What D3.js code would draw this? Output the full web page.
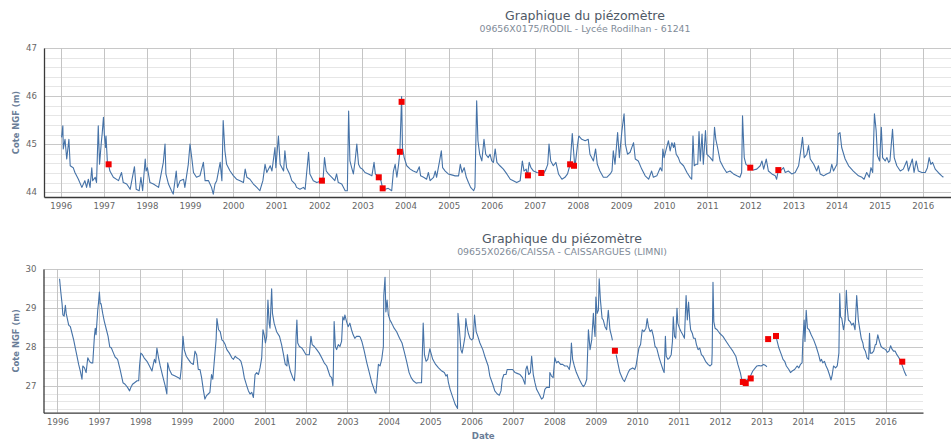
<!DOCTYPE html>
<html>
<head>
<meta charset="utf-8">
<script src="https://cdn.jsdelivr.net/npm/d3@7"></script>
<style>
  html, body { margin: 0; padding: 0; background: #fff; }
  svg { display: block; font-family: "Lucida Grande", "Lucida Sans Unicode", "DejaVu Sans", Verdana, sans-serif; }
</style>
</head>
<body>
<svg id="chart" width="951" height="441"></svg>
<script>
// Piezometer water level records (year as decimal, level in m NGF).
const rodilLevels = [
[1996.02,45.14],[1996.05,45.38],[1996.06,44.90],[1996.10,45.10],[1996.14,44.69],[1996.19,45.10],[1996.22,44.55],[1996.29,44.51],[1996.33,44.41],[1996.41,44.27],[1996.49,44.10],[1996.56,44.24],[1996.60,44.10],[1996.64,44.27],[1996.68,44.10],[1996.72,44.51],[1996.74,44.24],[1996.80,44.31],[1996.83,44.20],[1996.87,45.38],[1996.90,44.58],[1996.94,45.03],[1996.96,45.21],[1996.99,45.56],[1997.01,45.21],[1997.04,44.93],[1997.05,45.17],[1997.08,44.65],[1997.11,44.58],[1997.14,44.44],[1997.22,44.31],[1997.34,44.24],[1997.41,44.41],[1997.45,44.20],[1997.53,44.17],[1997.61,44.06],[1997.71,44.53],[1997.75,44.06],[1997.82,44.03],[1997.86,44.31],[1997.90,44.03],[1997.96,44.69],[1997.98,44.44],[1998.01,44.51],[1998.07,44.20],[1998.15,44.17],[1998.27,44.10],[1998.38,44.62],[1998.42,45.00],[1998.44,44.38],[1998.50,44.17],[1998.57,44.03],[1998.61,43.96],[1998.68,44.44],[1998.71,44.10],[1998.77,44.24],[1998.85,44.27],[1998.88,44.10],[1998.96,44.58],[1999.00,45.00],[1999.04,44.72],[1999.08,44.41],[1999.15,44.31],[1999.23,44.34],[1999.31,44.62],[1999.35,44.24],[1999.43,44.24],[1999.50,44.10],[1999.54,43.96],[1999.58,44.17],[1999.62,44.24],[1999.70,44.62],[1999.74,44.24],[1999.77,45.49],[1999.81,44.86],[1999.85,44.58],[1999.93,44.44],[2000.01,44.34],[2000.08,44.27],[2000.16,44.24],[2000.24,44.20],[2000.28,44.48],[2000.32,44.31],[2000.39,44.27],[2000.47,44.17],[2000.55,44.10],[2000.62,44.03],[2000.69,44.24],[2000.74,44.58],[2000.78,44.41],[2000.86,44.55],[2000.90,44.44],[2000.97,44.93],[2000.99,44.51],[2001.05,45.17],[2001.09,44.58],[2001.17,44.44],[2001.20,44.86],[2001.24,44.51],[2001.31,44.38],[2001.36,44.24],[2001.44,44.17],[2001.47,44.10],[2001.55,44.06],[2001.63,44.10],[2001.67,44.06],[2001.75,44.83],[2001.78,44.38],[2001.86,44.24],[2001.94,44.20],[2002.06,44.24],[2002.09,44.31],[2002.12,44.72],[2002.16,44.44],[2002.21,44.38],[2002.29,44.31],[2002.36,44.24],[2002.40,44.38],[2002.44,44.20],[2002.52,44.17],[2002.60,44.03],[2002.65,44.03],
[2002.68,45.69],[2002.71,44.65],[2002.75,44.51],[2002.79,44.38],[2002.83,44.65],[2002.87,45.00],[2002.91,44.58],[2002.95,44.51],[2003.00,44.48],[2003.06,44.41],[2003.14,44.38],[2003.22,44.34],[2003.27,44.62],[2003.30,44.38],[2003.38,44.31],[2003.43,44.24],[2003.47,44.08],[2003.53,44.06],[2003.60,44.08],[2003.68,44.03],[2003.72,44.44],[2003.76,44.58],[2003.80,44.31],[2003.84,44.58],[2003.87,44.84],[2003.91,45.99],[2003.93,44.93],[2003.97,44.72],[2004.03,44.55],[2004.11,44.48],[2004.18,44.44],[2004.26,44.41],[2004.32,44.53],[2004.35,44.34],[2004.42,44.31],[2004.49,44.27],[2004.53,44.41],[2004.57,44.24],[2004.65,44.31],[2004.69,44.44],[2004.72,44.31],[2004.79,44.65],[2004.83,44.86],[2004.86,44.51],[2004.92,44.44],[2004.99,44.38],[2005.07,44.36],[2005.15,44.34],[2005.23,44.34],[2005.27,44.58],[2005.31,44.41],[2005.36,44.51],[2005.41,44.31],[2005.46,44.20],[2005.51,44.10],[2005.58,44.03],[2005.61,44.10],[2005.65,45.90],[2005.68,45.07],[2005.72,44.79],[2005.77,44.65],[2005.82,45.10],[2005.86,44.79],[2005.92,44.72],[2005.96,44.79],[2006.00,44.65],[2006.04,44.62],[2006.08,44.90],[2006.12,44.62],[2006.19,44.55],[2006.27,44.48],[2006.35,44.38],[2006.43,44.27],[2006.50,44.24],[2006.58,44.20],[2006.66,44.24],[2006.71,44.65],[2006.75,44.44],[2006.80,44.48],[2006.83,44.34],[2006.87,44.62],[2006.91,44.51],[2006.97,44.44],[2007.05,44.41],[2007.15,44.40],[2007.20,44.38],[2007.26,44.48],[2007.30,44.58],[2007.33,45.00],[2007.37,44.65],[2007.43,44.55],[2007.49,44.62],[2007.55,44.38],[2007.63,44.27],[2007.70,44.31],[2007.76,44.38],[2007.82,44.58],[2007.87,45.22],[2007.93,44.51],[2007.99,44.97],[2008.02,45.17],[2008.09,45.10],[2008.17,45.07],[2008.24,45.10],[2008.28,44.79],[2008.36,44.65],[2008.41,44.90],[2008.45,44.58],[2008.51,44.44],[2008.59,44.31],[2008.67,44.31],[2008.75,44.38],[2008.79,44.44],[2008.82,44.86],[2008.86,44.58],[2008.92,45.24],[2008.96,44.72],[2009.02,45.28],[2009.07,45.63],[2009.10,45.00],[2009.15,44.79],[2009.21,44.83],[2009.29,45.03],[2009.33,44.69],[2009.40,44.65],[2009.48,44.48],
[2009.56,44.34],[2009.64,44.27],[2009.71,44.44],[2009.75,44.31],[2009.83,44.34],[2009.91,44.51],[2009.95,44.44],[2009.97,44.90],[2010.00,44.72],[2010.05,44.90],[2010.10,45.07],[2010.14,44.86],[2010.18,45.03],[2010.22,44.93],[2010.24,45.03],[2010.28,44.79],[2010.33,44.72],[2010.37,44.62],[2010.45,44.55],[2010.53,44.41],[2010.60,44.31],[2010.64,44.27],[2010.67,45.17],[2010.70,44.55],[2010.74,44.58],[2010.78,44.58],[2010.81,45.26],[2010.84,44.65],[2010.88,45.21],[2010.91,44.58],[2010.96,45.28],[2010.99,44.79],[2011.07,44.72],[2011.13,44.65],[2011.17,45.35],[2011.20,45.10],[2011.24,44.93],[2011.30,44.65],[2011.38,44.51],[2011.45,44.41],[2011.53,44.44],[2011.61,44.38],[2011.69,44.34],[2011.76,44.31],[2011.80,44.41],[2011.82,45.59],[2011.86,44.72],[2011.90,44.58],[2012.00,44.51],[2012.07,44.46],[2012.15,44.48],[2012.23,44.55],[2012.27,44.65],[2012.31,44.48],[2012.37,44.69],[2012.42,44.44],[2012.50,44.38],[2012.58,44.34],[2012.61,44.27],[2012.65,44.46],[2012.69,44.44],[2012.77,44.51],[2012.81,44.41],[2012.88,44.44],[2012.96,44.38],[2013.04,44.41],[2013.12,44.55],[2013.18,44.93],[2013.21,45.14],[2013.25,44.72],[2013.31,44.79],[2013.35,44.97],[2013.39,44.69],[2013.47,44.58],[2013.54,44.44],[2013.58,44.55],[2013.62,44.38],[2013.70,44.34],[2013.77,44.38],[2013.85,44.41],[2013.89,44.58],[2013.93,44.44],[2014.01,44.58],[2014.04,45.21],[2014.08,45.24],[2014.12,44.93],[2014.20,44.69],[2014.28,44.55],[2014.39,44.44],[2014.51,44.34],[2014.59,44.31],[2014.64,44.27],[2014.70,44.41],[2014.76,44.31],[2014.80,44.51],[2014.84,44.41],[2014.88,45.63],[2014.92,45.28],[2014.95,44.76],[2015.00,44.65],[2015.04,45.35],[2015.07,44.72],[2015.13,44.65],[2015.17,44.72],[2015.21,44.62],[2015.24,44.65],[2015.30,45.31],[2015.34,44.72],[2015.40,44.55],[2015.48,44.44],[2015.55,44.48],[2015.63,44.65],[2015.67,44.44],[2015.71,44.55],[2015.76,44.69],[2015.80,44.41],[2015.85,44.65],[2015.90,44.44],[2015.98,44.41],[2016.06,44.41],[2016.11,44.51],[2016.15,44.72],[2016.19,44.58],[2016.23,44.62],[2016.29,44.48],[2016.36,44.41],[2016.44,44.34],[2016.48,44.31]
];

// Flagged measurements on the Rodilhan record
const rodilFlags = [
[1997.11,44.58],[2002.06,44.24],[2003.38,44.31],[2003.47,44.08],[2003.87,44.84],[2003.91,45.88],
[2006.84,44.35],[2007.15,44.40],[2007.82,44.58],[2007.91,44.55],[2012.00,44.51],[2012.65,44.46]
];

// Caissargues record; null levels are missing periods
const caissaLevels = [
[1996.05,29.75],[1996.08,29.41],[1996.11,29.11],[1996.13,28.82],[1996.16,28.79],[1996.19,29.07],[1996.21,28.86],[1996.27,28.56],[1996.31,28.52],[1996.35,28.35],[1996.39,28.18],[1996.43,27.97],[1996.47,27.76],[1996.51,27.55],[1996.55,27.38],[1996.59,27.17],[1996.61,27.51],[1996.65,27.46],[1996.69,27.34],[1996.73,27.72],[1996.77,27.63],[1996.81,27.59],[1996.85,27.59],[1996.89,28.27],[1996.91,28.48],[1996.93,28.31],[1996.97,28.94],[1996.99,29.15],[1997.01,29.41],[1997.03,29.11],[1997.05,29.11],[1997.09,28.86],[1997.13,28.65],[1997.18,28.44],[1997.22,28.27],[1997.26,28.00],[1997.30,27.97],[1997.35,27.84],[1997.39,27.74],[1997.45,27.68],[1997.51,27.42],[1997.58,27.08],[1997.63,27.04],[1997.69,26.96],[1997.74,26.87],[1997.77,26.96],[1997.81,27.04],[1997.86,27.08],[1997.92,27.13],[1997.96,27.13],[1997.98,27.51],[1998.01,27.84],[1998.05,27.80],[1998.09,27.72],[1998.16,27.63],[1998.22,27.51],[1998.28,27.38],[1998.32,27.59],[1998.34,27.68],[1998.37,27.59],[1998.40,27.97],[1998.44,27.72],[1998.48,27.51],[1998.54,27.25],[1998.60,27.00],[1998.64,26.79],[1998.66,27.59],[1998.70,27.42],[1998.76,27.29],[1998.84,27.25],[1998.92,27.21],[1998.96,27.17],[1998.99,27.46],[1999.03,28.27],[1999.06,27.93],[1999.11,27.76],[1999.16,27.68],[1999.22,27.59],[1999.28,27.55],[1999.32,27.89],[1999.36,27.80],[1999.40,27.42],[1999.44,27.42],[1999.48,27.21],[1999.52,26.91],[1999.56,26.66],[1999.60,26.75],[1999.64,26.79],[1999.68,26.83],[1999.72,27.29],[1999.75,27.17],[1999.79,27.68],[1999.83,28.18],[1999.85,28.73],[1999.89,28.44],[1999.93,28.39],[1999.97,28.18],[2000.01,28.14],[2000.05,28.06],[2000.09,27.93],[2000.15,27.84],[2000.21,27.72],[2000.25,27.68],[2000.29,27.76],[2000.33,27.72],[2000.39,27.68],[2000.43,27.63],[2000.47,27.46],[2000.51,27.21],[2000.57,27.00],[2000.61,26.87],[2000.65,26.79],[2000.69,26.83],[2000.73,26.70],[2000.77,27.29],[2000.81,27.34],[2000.85,27.29],[2000.89,27.46],[2000.93,27.72],[2000.96,28.44],[2000.99,28.31],[2001.02,28.10],[2001.05,28.27],[2001.08,29.20],[2001.11,28.61],[2001.13,28.48],[2001.17,29.49],[2001.19,28.86],[2001.23,28.61],[2001.29,28.39],[2001.36,28.27],[2001.41,28.06],[2001.45,27.84],[2001.50,27.55],[2001.54,27.51],[2001.55,27.80],[2001.58,27.59],[2001.62,27.38],[2001.68,27.21],[2001.72,27.13],[2001.74,27.42],[2001.76,28.27],[2001.78,28.69],[2001.80,28.10],[2001.84,28.01],[2001.90,27.97],[2001.95,27.89],[2002.00,27.80],[2002.04,27.80],[2002.08,27.80],[2002.12,28.27],[2002.15,28.06],[2002.20,28.01],[2002.26,27.93],[2002.32,27.84],[2002.38,27.72],[2002.44,27.59],[2002.50,27.51],[2002.54,27.38],[2002.58,27.25],[2002.62,27.21],[2002.65,27.00],[2002.66,27.34],[2002.68,28.65],[2002.71,28.01],[2002.74,27.93],[2002.78,28.06],[2002.82,28.01],[2002.86,28.14],[2002.89,28.77],[2002.92,28.69],[2002.94,28.82],[2002.98,28.65],[2003.02,28.52],[2003.06,28.61],[2003.10,28.44],[2003.14,28.31],[2003.18,28.22],[2003.22,28.27],[2003.29,28.27],
[2003.31,28.25],[2003.35,28.14],[2003.40,27.93],[2003.47,27.59],[2003.53,27.34],[2003.59,27.08],[2003.63,26.96],[2003.67,26.83],[2003.69,26.81],[2003.72,27.17],[2003.75,27.55],[2003.79,27.51],[2003.83,27.68],[2003.87,28.01],[2003.88,29.32],[2003.91,29.79],[2003.93,28.90],[2003.96,29.20],[2003.99,28.82],[2004.03,28.69],[2004.07,28.61],[2004.13,28.48],[2004.19,28.39],[2004.26,28.22],[2004.32,28.10],[2004.37,27.89],[2004.43,27.63],[2004.49,27.34],[2004.54,27.21],[2004.59,27.13],[2004.66,27.07],[2004.71,27.08],[2004.79,27.08],[2004.83,28.61],[2004.86,27.80],[2004.90,27.63],[2004.94,27.68],[2004.99,27.95],[2005.06,27.68],[2005.13,27.55],[2005.20,27.46],[2005.28,27.38],[2005.34,27.34],[2005.38,27.25],[2005.41,27.29],[2005.44,27.08],[2005.48,26.91],[2005.53,26.75],[2005.60,26.53],[2005.66,26.42],[2005.67,28.86],[2005.70,28.52],[2005.74,27.93],[2005.77,27.84],[2005.80,28.01],[2005.84,28.27],[2005.86,28.73],[2005.88,28.56],[2005.92,28.35],[2005.96,28.22],[2006.00,28.18],[2006.04,28.22],[2006.07,28.82],[2006.11,28.39],[2006.15,28.27],[2006.20,28.10],[2006.27,27.93],[2006.33,27.72],[2006.40,27.51],[2006.44,27.25],[2006.51,27.04],[2006.56,26.87],[2006.62,26.79],[2006.67,26.76],[2006.71,26.87],[2006.74,27.17],[2006.78,27.29],[2006.83,27.29],[2006.86,27.42],[2006.93,27.42],[2006.99,27.42],[2007.05,27.34],[2007.10,27.32],[2007.17,27.29],[2007.23,27.21],[2007.29,27.04],[2007.31,27.42],[2007.34,27.51],[2007.38,27.29],[2007.42,27.34],[2007.45,27.76],[2007.49,27.29],[2007.53,27.08],[2007.57,26.91],[2007.63,26.79],[2007.69,26.66],[2007.73,26.70],[2007.77,26.91],[2007.81,26.96],[2007.88,26.96],[2007.89,27.34],[2007.93,27.25],[2007.97,27.21],[2008.01,27.72],[2008.05,27.59],[2008.09,27.63],[2008.15,27.55],[2008.20,27.55],[2008.25,27.51],[2008.31,27.51],[2008.36,27.42],[2008.39,27.63],[2008.41,28.10],[2008.44,27.68],[2008.48,27.51],[2008.53,27.34],[2008.60,27.17],[2008.66,27.04],[2008.70,26.98],[2008.74,27.04],[2008.78,27.17],[2008.79,27.51],[2008.82,28.44],[2008.86,27.93],[2008.90,28.18],[2008.94,28.86],[2008.95,28.61],[2008.98,28.27],[2009.00,29.28],[2009.03,28.86],[2009.06,28.94],[2009.08,29.75],[2009.11,29.20],[2009.15,28.73],[2009.18,28.69],[2009.22,28.52],[2009.26,28.44],[2009.30,28.94],[2009.34,28.44],[2009.38,28.27],[2009.40,28.17],
[2009.45,null],
[2009.49,27.80],[2009.53,27.59],[2009.58,27.34],[2009.65,27.17],[2009.69,27.11],[2009.73,27.21],[2009.78,27.34],[2009.82,27.42],[2009.89,27.46],[2009.94,27.42],[2009.97,27.51],[2010.00,27.72],[2010.04,27.97],[2010.08,28.06],[2010.12,28.44],[2010.16,28.39],[2010.21,28.48],[2010.24,28.73],[2010.27,28.52],[2010.31,28.39],[2010.35,28.44],[2010.39,28.27],[2010.43,28.01],[2010.47,27.97],[2010.53,27.72],
[2010.58,27.55],[2010.62,27.42],[2010.65,27.34],[2010.68,28.27],[2010.70,27.76],[2010.74,27.68],[2010.78,27.72],[2010.82,27.80],[2010.85,28.14],[2010.87,28.77],[2010.90,28.27],[2010.93,28.22],[2010.96,28.99],[2010.98,28.61],[2011.02,28.48],[2011.06,28.39],[2011.10,28.31],[2011.14,28.22],[2011.18,29.32],[2011.21,28.69],[2011.24,29.15],[2011.27,28.65],[2011.29,28.44],[2011.33,28.35],[2011.36,28.22],[2011.40,28.22],[2011.43,28.06],[2011.47,27.93],[2011.51,27.97],[2011.55,27.80],[2011.59,27.76],[2011.65,27.63],[2011.71,27.55],[2011.76,27.51],[2011.80,27.55],[2011.81,27.84],[2011.83,29.66],[2011.85,28.65],[2011.88,28.48],[2011.93,28.44],[2011.99,28.35],[2012.07,28.27],[2012.15,28.14],[2012.23,28.01],[2012.31,27.89],[2012.38,27.76],[2012.43,27.55],[2012.49,27.34],[2012.53,27.13],[2012.55,27.10],[2012.62,27.13],[2012.67,27.17],[2012.71,27.21],[2012.75,27.29],[2012.79,27.38],[2012.85,27.46],[2012.89,27.51],[2012.94,27.52],[2012.99,27.51],[2013.05,27.55],[2013.10,27.52],[2013.13,27.49],
[2013.25,null],
[2013.36,28.25],[2013.37,28.18],[2013.42,27.97],[2013.48,27.80],[2013.52,27.68],[2013.56,27.63],[2013.60,27.51],[2013.66,27.42],[2013.70,27.34],[2013.74,27.38],[2013.80,27.42],[2013.86,27.51],[2013.90,27.46],[2013.94,27.55],[2013.98,27.59],[2014.00,28.18],[2014.03,28.69],[2014.05,28.14],[2014.08,28.94],[2014.11,28.48],[2014.15,28.44],[2014.20,28.31],[2014.26,28.18],[2014.32,28.01],[2014.38,27.80],[2014.42,27.63],[2014.45,27.68],[2014.48,27.59],[2014.52,27.63],[2014.56,27.51],[2014.60,27.42],[2014.64,27.29],[2014.68,27.15],[2014.71,27.29],[2014.74,27.51],[2014.79,27.46],[2014.83,27.51],[2014.87,27.84],[2014.89,29.37],[2014.91,28.77],[2014.94,28.73],[2014.98,28.44],[2015.02,28.69],[2015.05,29.45],[2015.07,29.03],[2015.10,28.69],[2015.14,28.65],[2015.18,28.56],[2015.22,28.61],[2015.26,28.44],[2015.30,29.32],[2015.34,28.69],[2015.37,28.48],[2015.41,28.22],[2015.45,28.10],[2015.47,27.97],[2015.51,27.89],[2015.55,27.72],[2015.59,27.68],[2015.61,28.35],[2015.63,27.84],[2015.67,27.84],[2015.71,27.89],[2015.75,28.06],[2015.77,28.06],[2015.81,28.31],[2015.85,28.14],[2015.89,28.01],[2015.93,27.97],[2016.00,27.93],[2016.04,27.86],[2016.08,27.89],[2016.12,28.03],[2016.15,27.95],[2016.19,27.89],[2016.23,27.89],[2016.27,27.80],[2016.32,27.72],[2016.36,27.63],[2016.40,27.52],[2016.46,27.34],[2016.50,27.25]
];

// Flagged measurements on the Caissargues record
const caissaFlags = [
[2009.46,27.90],[2012.55,27.10],[2012.62,27.07],[2012.74,27.19],[2013.16,28.20],[2013.35,28.28],[2016.40,27.62]
];

const yearTicks = [1996,1997,1998,1999,2000,2001,2002,2003,2004,2005,2006,2007,2008,2009,2010,2011,2012,2013,2014,2015,2016];
const rodilLevelTicks = [44, 45, 46, 47];
const caissaLevelTicks = [27, 28, 29, 30];

const chartTitle = "Graphique du piézomètre";
const rodilSubtitle = "09656X0175/RODIL - Lycée Rodilhan - 61241";
const caissaSubtitle = "09655X0266/CAISSA - CAISSARGUES (LIMNI)";
const levelAxisTitle = "Cote NGF (m)";
const dateAxisTitle = "Date";

// decimal year -> UTC date
function toDate(y) {
  const yr = Math.floor(y);
  const a = Date.UTC(yr, 0, 1), b = Date.UTC(yr + 1, 0, 1);
  return new Date(a + (y - yr) * (b - a));
}

const svg = d3.select("#chart");
svg.append("rect").attr("width", 951).attr("height", 441).attr("fill", "#fff");

function drawPanel(cfg) {
  const g = svg.append("g");
  const x = d3.scaleUtc().domain(cfg.xDomain.map(toDate)).range([cfg.left, cfg.right]);
  const y = d3.scaleLinear().domain(cfg.yDomain).range([cfg.bottom, cfg.top]);

  // minor horizontal grid every 0.2 m
  const minor = d3.range(Math.ceil(cfg.yDomain[0] * 5), Math.floor(cfg.yDomain[1] * 5) + 1)
    .map(v => v / 5).filter(v => Math.abs(v - Math.round(v)) > 1e-6);
  g.append("g").selectAll("line").data(minor).join("line")
    .attr("x1", cfg.left).attr("x2", cfg.right)
    .attr("y1", d => Math.round(y(d)) + 0.5).attr("y2", d => Math.round(y(d)) + 0.5)
    .attr("stroke", "#e6e6e6").attr("stroke-width", 1);

  // major horizontal grid
  g.append("g").selectAll("line").data(cfg.yTicks).join("line")
    .attr("x1", cfg.left).attr("x2", cfg.right)
    .attr("y1", d => Math.round(y(d)) + 0.5).attr("y2", d => Math.round(y(d)) + 0.5)
    .attr("stroke", "#c8c8c8").attr("stroke-width", 1);

  // vertical year grid
  g.append("g").selectAll("line").data(yearTicks).join("line")
    .attr("x1", d => Math.round(x(toDate(d))) + 0.5).attr("x2", d => Math.round(x(toDate(d))) + 0.5)
    .attr("y1", cfg.top).attr("y2", cfg.bottom)
    .attr("stroke", "#c4c4c4").attr("stroke-width", 1);

  // series line
  const line = d3.line()
    .defined(d => d[1] != null)
    .x(d => x(toDate(d[0])))
    .y(d => y(d[1]));
  g.append("path").datum(cfg.series)
    .attr("d", line)
    .attr("fill", "none")
    .attr("stroke", "#4572a7")
    .attr("stroke-width", 1.1)
    .attr("stroke-linejoin", "round");

  // flagged points
  g.append("g").selectAll("rect").data(cfg.flags).join("rect")
    .attr("x", d => x(toDate(d[0])) - 3)
    .attr("y", d => y(d[1]) - 3)
    .attr("width", 6).attr("height", 6)
    .attr("fill", "#f20000");

  // axes
  const xAxis = d3.axisBottom(x)
    .tickValues(yearTicks.map(toDate))
    .tickFormat(d3.utcFormat("%Y"))
    .tickSize(0).tickPadding(6);
  const xa = g.append("g").attr("transform", `translate(0,${cfg.bottom})`).call(xAxis);
  xa.select(".domain").attr("stroke", "#3a3a3a").attr("stroke-width", 1.3);
  xa.selectAll("text").attr("fill", "#666").attr("font-size", "8.6px")
    .attr("font-family", "'DejaVu Sans', sans-serif");

  const yAxis = d3.axisLeft(y).tickValues(cfg.yTicks).tickFormat(d3.format("d"))
    .tickSize(0).tickPadding(7);
  const ya = g.append("g").attr("transform", `translate(${cfg.left},0)`).call(yAxis);
  ya.select(".domain").attr("stroke", "#3a3a3a").attr("stroke-width", 1.3);
  ya.selectAll("text").attr("fill", "#666").attr("font-size", "8.6px")
    .attr("font-family", "'DejaVu Sans', sans-serif");

  // titles
  g.append("text").attr("x", cfg.titleX).attr("y", cfg.titleY)
    .attr("text-anchor", "middle").attr("font-size", "12.5px").attr("fill", "#4f5966")
    .attr("font-family", "'DejaVu Sans', sans-serif")
    .text(chartTitle);
  g.append("text").attr("x", cfg.titleX).attr("y", cfg.subY)
    .attr("text-anchor", "middle").attr("font-size", "9.4px").attr("fill", "#7f8b98")
    .attr("font-family", "'DejaVu Sans', sans-serif")
    .text(cfg.subtitle);

  g.append("text")
    .attr("transform", `translate(19,${(cfg.top + cfg.bottom) / 2}) rotate(-90)`)
    .attr("text-anchor", "middle").attr("font-size", "8.4px").attr("font-weight", "bold")
    .attr("fill", "#6a7d97").attr("font-family", "'DejaVu Sans', sans-serif")
    .text(levelAxisTitle);

  if (cfg.xTitle) {
    g.append("text").attr("x", (cfg.left + cfg.right) / 2).attr("y", cfg.bottom + 26)
      .attr("text-anchor", "middle").attr("font-size", "8.6px").attr("font-weight", "bold")
      .attr("fill", "#6a7d97").attr("font-family", "'DejaVu Sans', sans-serif")
      .text(cfg.xTitle);
  }
}

drawPanel({
  series: rodilLevels, flags: rodilFlags, yTicks: rodilLevelTicks, subtitle: rodilSubtitle,
  left: 44, right: 951, top: 48, bottom: 197,
  xDomain: [1995.6125, 2016.656], yDomain: [43.9, 47],
  titleX: 585, titleY: 19.5, subY: 32
});

drawPanel({
  series: caissaLevels, flags: caissaFlags, yTicks: caissaLevelTicks, subtitle: caissaSubtitle,
  left: 43.5, right: 923, top: 269, bottom: 412.7,
  xDomain: [1995.662, 2016.90], yDomain: [26.31, 30],
  titleX: 562, titleY: 243, subY: 254.5, xTitle: dateAxisTitle
});
</script>
</body>
</html>
